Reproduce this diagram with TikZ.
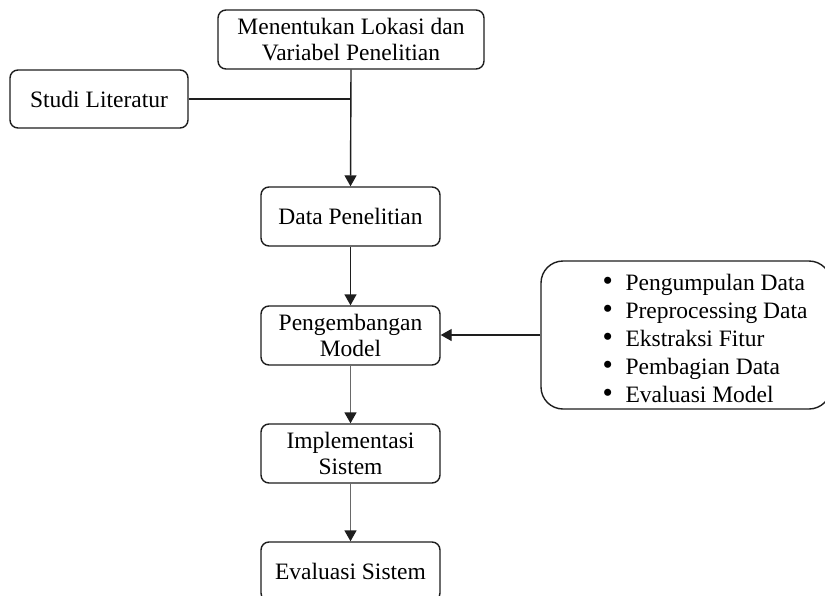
\documentclass[tikz,border=0pt]{standalone}
\usepackage{fontspec}
\setmainfont{Liberation Serif}
\usetikzlibrary{arrows.meta}
\definecolor{linegray}{RGB}{105,105,105}
\definecolor{edge}{RGB}{30,30,30}
\newcommand{\blt}{\makebox[23pt][l]{\scalebox{1.25}{•}}}
\tikzset{
  stepbox/.style={draw=edge, line width=1.4pt, rounded corners=8pt, align=center,
    font=\fontsize{23.5}{26}\selectfont, inner sep=0pt},
  conn/.style={draw=edge, line width=1.4pt},
  arr/.style={conn, -{Triangle[width=12pt,length=11pt]}},
  grayarr/.style={draw=linegray, line width=1.7pt, -{Triangle[width=12pt,length=11pt,fill=edge,color=edge]}},
}
\begin{document}
\begin{tikzpicture}[x=1pt,y=-1pt]
\useasboundingbox (0,0) rectangle (825,595);
\fill[white] (0,0) rectangle (825,595);
\clip (0,0) rectangle (825,595);

\node[stepbox, minimum width=266pt, minimum height=59pt] (top) at (351,39.5) {Menentukan Lokasi dan\\Variabel Penelitian};
\node[stepbox, minimum width=178pt, minimum height=58pt] (studi) at (99,99) {Studi Literatur};
\node[stepbox, minimum width=179pt, minimum height=59pt] (data) at (350.5,216.5) {Data Penelitian};
\node[stepbox, minimum width=179pt, minimum height=59pt] (peng) at (350.5,335.5) {Pengembangan\\Model};
\node[stepbox, minimum width=179pt, minimum height=59pt] (impl) at (350.5,453.5) {Implementasi\\Sistem};
\node[stepbox, minimum width=179pt, minimum height=59pt] (eval) at (350.5,571.5) {Evaluasi Sistem};
\node[stepbox, rounded corners=22pt, minimum width=290pt, minimum height=148pt] (list) at (686,335) {};
\node[anchor=west, align=left, inner sep=0pt, font=\fontsize{23.5}{28}\selectfont] (listtext) at ([xshift=62pt,yshift=-3pt]list.west)
  {\blt Pengumpulan Data\\
   \blt Preprocessing Data\\
   \blt Ekstraksi Fitur\\
   \blt Pembagian Data\\
   \blt Evaluasi Model};

\draw[arr] (top.south) -- (data.north);
\draw[conn] (studi.east) -- (studi.east -| top.south);
\draw[arr] (data.south) -- (peng.north);
\draw[arr] (list.west) -- (list.west -| peng.east);
\draw[grayarr] (peng.south) -- (impl.north);
\draw[grayarr] (impl.south) -- (eval.north);
\end{tikzpicture}
\end{document}
